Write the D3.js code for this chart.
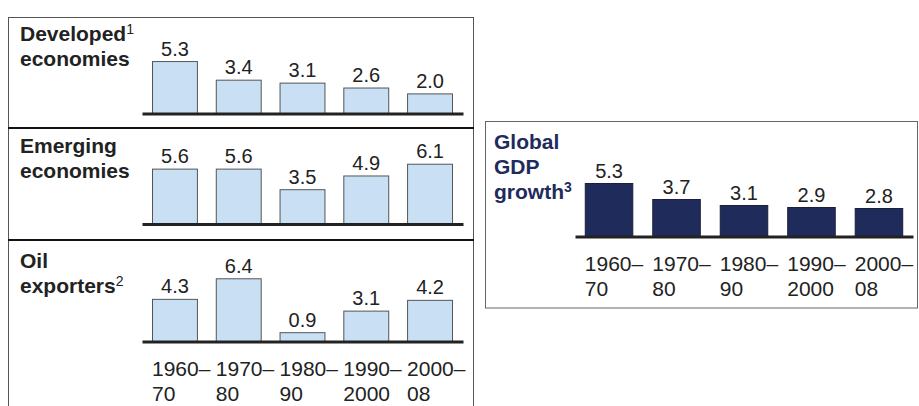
<!DOCTYPE html>
<html>
<head>
<meta charset="utf-8">
<script src="https://cdn.jsdelivr.net/npm/d3@7"></script>
<style>
  body { margin: 0; background: #fff; }
  svg { display: block; font-family: "Liberation Sans", Arial, sans-serif; }
</style>
</head>
<body>
<div id="root"></div>
<script>
// data (growth, %)
const periods = ["1960–70", "1970–80", "1980–90", "1990–2000", "2000–08"];
const tickLines = [["1960–", "70"], ["1970–", "80"], ["1980–", "90"], ["1990–", "2000"], ["2000–", "08"]];
const developed = [5.3, 3.4, 3.1, 2.6, 2.0];
const emerging = [5.6, 5.6, 3.5, 4.9, 6.1];
const oilExporters = [4.3, 6.4, 0.9, 3.1, 4.2];
const globalGdp = [5.3, 3.7, 3.1, 2.9, 2.8];

const width = 919, height = 406;

const svg = d3.select("#root").append("svg")
  .attr("width", width)
  .attr("height", height);

//left boxes: outer frame and dividers
svg.append("rect")
  .attr("x", 8.5).attr("y", 17.5)
  .attr("width", 465).attr("height", 400)
  .attr("fill", "none").attr("stroke", "#555").attr("stroke-width", 1);
[128, 240].forEach(function(y){
  svg.append("line")
    .attr("x1", 8).attr("x2", 474).attr("y1", y).attr("y2", y)
    .attr("stroke", "#111").attr("stroke-width", 2);
});

//right box
svg.append("rect")
  .attr("x", 485.5).attr("y", 121.5)
  .attr("width", 432).attr("height", 186.5)
  .attr("fill", "none").attr("stroke", "#666").attr("stroke-width", 1);

//x scales
const xLeft = d3.scaleBand().domain(periods).range([142, 463])
  .paddingInner(0.28).paddingOuter(0.157);
const xRight = d3.scaleBand().domain(periods).range([575, 913])
  .paddingInner(0.281).paddingOuter(0.145);

function drawPanel(opts){
  const y = d3.scaleLinear().domain([0, 7]).range([opts.base, opts.base - 7 * opts.unit]);
  const x = opts.x;
  const g = svg.append("g");

  g.selectAll("rect.bar")
    .data(opts.values)
    .enter()
    .append("rect")
    .attr("class", "bar")
    .attr("x", (d, i) => x(periods[i]) + 0.5)
    .attr("y", d => y(d))
    .attr("width", x.bandwidth() - 1)
    .attr("height", d => y(0) - y(d))
    .attr("fill", opts.fill)
    .attr("stroke", opts.stroke)
    .attr("stroke-width", 1);

  //value labels
  g.selectAll("text.val")
    .data(opts.values)
    .enter()
    .append("text")
    .attr("class", "val")
    .attr("x", (d, i) => x(periods[i]) + x.bandwidth() / 2)
    .attr("y", d => y(d) - 6)
    .attr("text-anchor", "middle")
    .style("font-size", "20px")
    .attr("fill", "#222")
    .text(d => d.toFixed(1));

  //baseline axis
  const axis = d3.axisBottom(x).tickSize(0).tickSizeOuter(0).tickFormat("");
  const ax = g.append("g")
    .attr("transform", "translate(0," + y(0) + ")")
    .call(axis);
  ax.select(".domain").attr("stroke", "#222").attr("stroke-width", 3);

  if (opts.ticks) {
    ax.selectAll(".tick text").remove();
    ax.selectAll(".tick").each(function(d, i){
      const t = d3.select(this).append("text")
        .attr("x", -x.bandwidth() / 2)
        .attr("y", opts.tickY)
        .attr("text-anchor", "start")
        .attr("fill", "#222")
        .style("font-size", "21px");
      tickLines[i].forEach(function(line, j){
        t.append("tspan")
          .attr("x", -x.bandwidth() / 2)
          .attr("dy", j === 0 ? 0 : 25)
          .text(line);
      });
    });
  }

  //panel title, superscript note after line supLine
  const title = svg.append("text")
    .attr("x", opts.titleX)
    .attr("y", opts.titleY)
    .attr("fill", opts.titleColor)
    .style("font-size", "21px")
    .style("font-weight", "bold");
  opts.title.forEach(function(line, j){
    title.append("tspan")
      .attr("x", opts.titleX)
      .attr("dy", j === 0 ? 0 : (j === opts.supLine + 1 ? 32 : 25))
      .text(line);
    if (opts.sup && j === opts.supLine) {
      title.append("tspan")
        .attr("dy", -7)
        .style("font-size", "14px")
        .style("font-weight", opts.supBold ? "bold" : "normal")
        .text(opts.sup);
      if (j === opts.title.length - 1) return;
    }
  });
}

drawPanel({
  values: developed, x: xLeft, base: 113.5, unit: 9.8,
  fill: "#c9e0f4", stroke: "#555",
  title: ["Developed", "economies"], titleX: 20, titleY: 41, titleColor: "#222",
  sup: "1", supLine: 0
});

drawPanel({
  values: emerging, x: xLeft, base: 224, unit: 9.8,
  fill: "#c9e0f4", stroke: "#555",
  title: ["Emerging", "economies"], titleX: 20, titleY: 153, titleColor: "#222"
});

drawPanel({
  values: oilExporters, x: xLeft, base: 341.5, unit: 9.8,
  fill: "#c9e0f4", stroke: "#555",
  title: ["Oil", "exporters"], titleX: 20, titleY: 268, titleColor: "#222",
  sup: "2", supLine: 1, ticks: true, tickY: 34
});

drawPanel({
  values: globalGdp, x: xRight, base: 236.5, unit: 10,
  fill: "#1f2b5b", stroke: "#1a1f3a",
  title: ["Global", "GDP", "growth"], titleX: 494, titleY: 149, titleColor: "#1f2b5b",
  sup: "3", supLine: 2, supBold: true, ticks: true, tickY: 34
});
</script>
</body>
</html>
